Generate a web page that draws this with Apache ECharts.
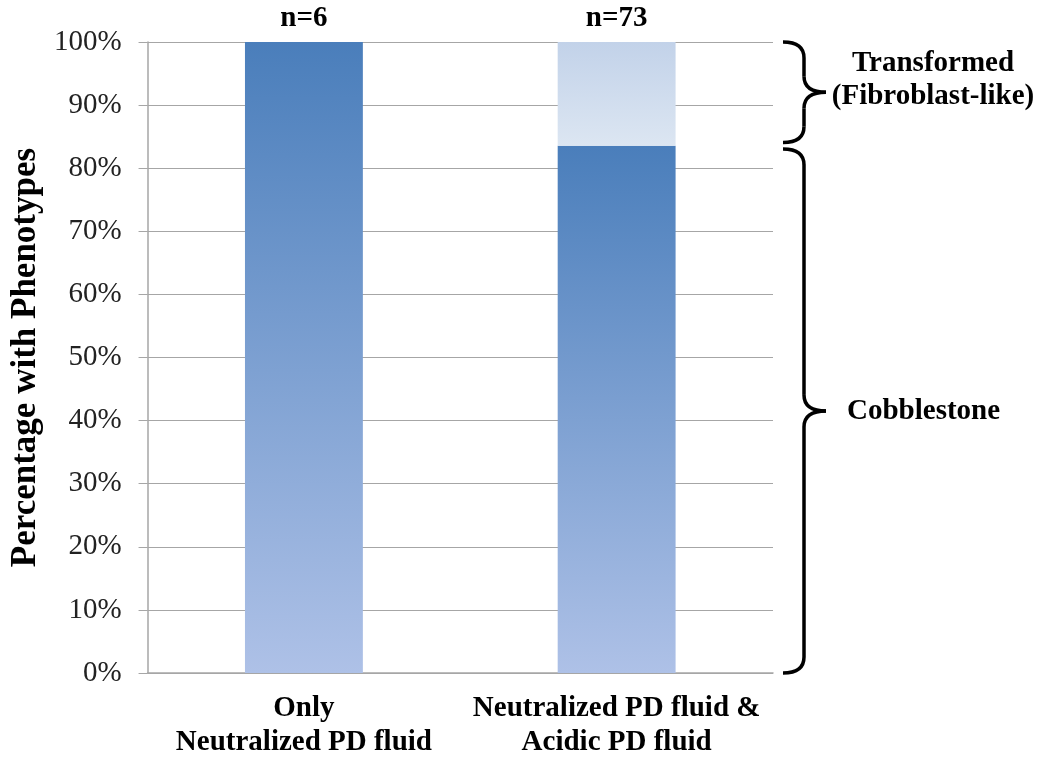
<!DOCTYPE html>
<html>
<head>
<meta charset="utf-8">
<script src="https://cdn.jsdelivr.net/npm/echarts@6/dist/echarts.min.js"></script>
<style>
html,body{margin:0;padding:0;background:#fff;}
#chart{width:1047px;height:762px;}
</style>
</head>
<body>
<div id="chart"></div>
<script>
var categories = ['Only\nNeutralized PD fluid', 'Neutralized PD fluid &\nAcidic PD fluid'];
var cobblestone = [100, 83.56];
var transformed = [0, 16.44];
var nLabels = ['n=6', 'n=73'];
var yTicks = [0, 10, 20, 30, 40, 50, 60, 70, 80, 90, 100];

var SERIF = '"Liberation Serif","Times New Roman",serif';
var chart = echarts.init(document.getElementById('chart'));

function topLabel(i) {
  return {show: true, position: 'top', distance: 9, formatter: nLabels[i],
    fontFamily: SERIF, fontWeight: 'bold', fontSize: 29, color: '#000'};
}

var cobData = cobblestone.map(function (v, i) {
  var d = {value: v};
  if (!(transformed[i] > 0)) d.label = topLabel(i);
  return d;
});
var trData = transformed.map(function (v, i) {
  var d = {value: v > 0 ? v : '-'};
  if (v > 0) d.label = topLabel(i);
  return d;
});

var GRID_LEFT = 143, GRID_RIGHT = 274, GRID_TOP = 42, GRID_BOTTOM = 89;

chart.setOption({
  animation: false,
  backgroundColor: '#fff',
  grid: {left: GRID_LEFT, right: GRID_RIGHT, top: GRID_TOP, bottom: GRID_BOTTOM},
  xAxis: {
    type: 'category',
    data: categories,
    axisLine: {lineStyle: {color: '#a6a6a6', width: 1.5}},
    axisTick: {show: false},
    axisLabel: {fontFamily: SERIF, fontWeight: 'bold', fontSize: 29, color: '#000',
      lineHeight: 34, margin: 19, interval: 0}
  },
  yAxis: {
    type: 'value',
    min: 0, max: 100, interval: 10,
    name: 'Percentage with Phenotypes',
    nameLocation: 'middle',
    nameGap: 96,
    nameTextStyle: {fontFamily: SERIF, fontWeight: 'bold', fontSize: 35, color: '#000'},
    axisLine: {show: true, lineStyle: {color: '#a6a6a6', width: 1.5}},
    axisTick: {show: true, length: 9, lineStyle: {color: '#a6a6a6'}},
    axisLabel: {formatter: function (v) { return yTicks.indexOf(v) >= 0 ? v + '%' : ''; },
      fontFamily: SERIF, fontSize: 29, color: '#222', margin: 26},
    splitLine: {lineStyle: {color: '#a6a6a6', width: 1.2}}
  },
  series: [
    {
      name: 'Cobblestone', type: 'bar', stack: 'a', barWidth: '37.7%',
      data: cobData,
      itemStyle: {color: new echarts.graphic.LinearGradient(0, 0, 0, 1, [
        {offset: 0, color: '#4a7ebb'}, {offset: 1, color: '#aec1e7'}])}
    },
    {
      name: 'Transformed', type: 'bar', stack: 'a', barWidth: '37.7%',
      data: trData,
      itemStyle: {color: new echarts.graphic.LinearGradient(0, 0, 0, 1, [
        {offset: 0, color: '#c2d2e9'}, {offset: 1, color: '#dce6f2'}])}
    }
  ]
});

var LINE = {stroke: '#000', lineWidth: 3.5, fill: null};
function brace(yTopVal, yBotVal) {
  var xRight = chart.getWidth() - GRID_RIGHT;
  var y1 = chart.convertToPixel({yAxisIndex: 0}, yTopVal);
  var y2 = chart.convertToPixel({yAxisIndex: 0}, yBotVal);
  var ym = (y1 + y2) / 2;
  var x0 = xRight + 10, xm = xRight + 31, xt = xRight + 53, r = 16;
  var els = [
    {type: 'bezierCurve', shape: {x1: x0, y1: y1, x2: xm, y2: y1 + r, cpx1: xm, cpy1: y1}, style: LINE},
    {type: 'line', shape: {x1: xm, y1: y1 + r, x2: xm, y2: ym - r}, style: LINE},
    {type: 'bezierCurve', shape: {x1: xm, y1: ym - r, x2: xt, y2: ym, cpx1: xm, cpy1: ym}, style: LINE},
    {type: 'bezierCurve', shape: {x1: xt, y1: ym, x2: xm, y2: ym + r, cpx1: xm, cpy1: ym}, style: LINE},
    {type: 'line', shape: {x1: xm, y1: ym + r, x2: xm, y2: y2 - r}, style: LINE},
    {type: 'bezierCurve', shape: {x1: xm, y1: y2 - r, x2: x0, y2: y2, cpx1: xm, cpy1: y2}, style: LINE}
  ];
  return {els: els, ym: ym, xt: xt};
}

var boundary = cobblestone[1];
var b1 = brace(100, boundary + 0.5);
var b2 = brace(boundary - 0.5, 0);
var txt = {fontFamily: SERIF, fontWeight: 'bold', fontSize: 29, fill: '#000'};

var graphics = b1.els.concat(b2.els).concat([
  {type: 'text', x: b1.xt + 107, y: b1.ym - 29,
    style: Object.assign({text: 'Transformed', align: 'center', verticalAlign: 'middle'}, txt)},
  {type: 'text', x: b1.xt + 107, y: b1.ym + 4,
    style: Object.assign({text: '(Fibroblast-like)', align: 'center', verticalAlign: 'middle'}, txt)},
  {type: 'text', x: b2.xt + 21, y: b2.ym + 1,
    style: Object.assign({text: 'Cobblestone', align: 'left', verticalAlign: 'middle'}, txt)}
]);
chart.setOption({graphic: graphics});
</script>
</body>
</html>
